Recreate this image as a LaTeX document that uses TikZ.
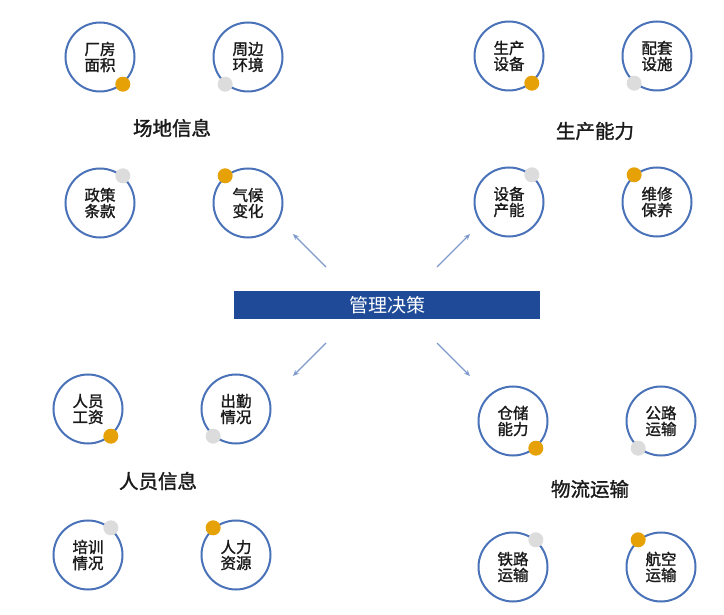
\documentclass[tikz,border=0pt]{standalone}
\usepackage{fontspec}
\setmainfont{Noto Sans CJK SC}
\newfontfamily\semibold{Noto Sans CJK SC}[FakeBold=1.5]
\usetikzlibrary{arrows.meta, positioning}
\definecolor{RingBlue}{HTML}{4A72B8}
\definecolor{BarBlue}{HTML}{1E4A98}
\definecolor{RayBlue}{HTML}{7E99CC}
\definecolor{DotOrange}{HTML}{E6A106}
\definecolor{DotGray}{HTML}{DCDCDC}
\definecolor{InkGray}{HTML}{1A1A1A}

\begin{document}
\begin{tikzpicture}[x=1pt, y=-1pt, on grid, node distance=146pt and 148pt,
  item/.style={circle, draw=RingBlue, line width=2pt, minimum size=69pt, inner sep=0pt, align=center, text=InkGray, font=\fontsize{15.5}{16}\semibold},
  hot/.style={circle, fill=DotOrange, minimum size=15pt, inner sep=0pt},
  cold/.style={circle, fill=DotGray, minimum size=15pt, inner sep=0pt},
  group/.style={text=InkGray, font=\fontsize{19.5}{22}\semibold},
  ray/.style={-{Stealth[length=6pt, width=5pt]}, draw=RayBlue, line width=1.2pt}]

    \useasboundingbox (0,0) rectangle (724,615);

    % site
    \node[item] (A1) at (100,57) {厂房\\面积};
    \node[item, right=of A1] (A2) {周边\\环境};
    \node[item, below=of A1] (A3) {政策\\条款};
    \node[item, right=of A3] (A4) {气候\\变化};
    \node[group] (A) at (172,128) {场地信息};

    % production
    \node[item] (B1) at (509,56) {生产\\设备};
    \node[item, right=of B1] (B2) {配套\\设施};
    \node[item, below=of B1] (B3) {设备\\产能};
    \node[item, right=of B3] (B4) {维修\\保养};
    \node[group] (B) at (595,131) {生产能力};

    % staff
    \node[item] (C1) at (88,409) {人员\\工资};
    \node[item, right=of C1] (C2) {出勤\\情况};
    \node[item, below=of C1] (C3) {培训\\情况};
    \node[item, right=of C3] (C4) {人力\\资源};
    \node[group] (C) at (158,481) {人员信息};

    % logistics
    \node[item] (D1) at (513,421) {仓储\\能力};
    \node[item, right=of D1] (D2) {公路\\运输};
    \node[item, below=of D1] (D3) {铁路\\运输};
    \node[item, right=of D3] (D4) {航空\\运输};
    \node[group] (D) at (590,489) {物流运输};

    \foreach \g in {A,B,C,D} {
        \node[hot] (\g1dot) at (\g1.-50) {};
        \node[cold] (\g2dot) at (\g2.230) {};
        \node[cold] (\g3dot) at (\g3.50) {};
        \node[hot] (\g4dot) at (\g4.130) {};
    }

    \node[fill=BarBlue, text=white, minimum width=306pt, minimum height=28pt, inner sep=0pt, font=\fontsize{19}{22}\selectfont] (M) at (387,305) {管理决策};

    \coordinate (RA1) at (326,267); \coordinate (RA2) at (293,234);
    \coordinate (RB1) at (437,267); \coordinate (RB2) at (470,234);
    \coordinate (RC1) at (326,343); \coordinate (RC2) at (293,376);
    \coordinate (RD1) at (437,343); \coordinate (RD2) at (470,376);
    \draw[ray] (RA1) -- (RA2);
    \draw[ray] (RB1) -- (RB2);
    \draw[ray] (RC1) -- (RC2);
    \draw[ray] (RD1) -- (RD2);

\end{tikzpicture}
\end{document}
